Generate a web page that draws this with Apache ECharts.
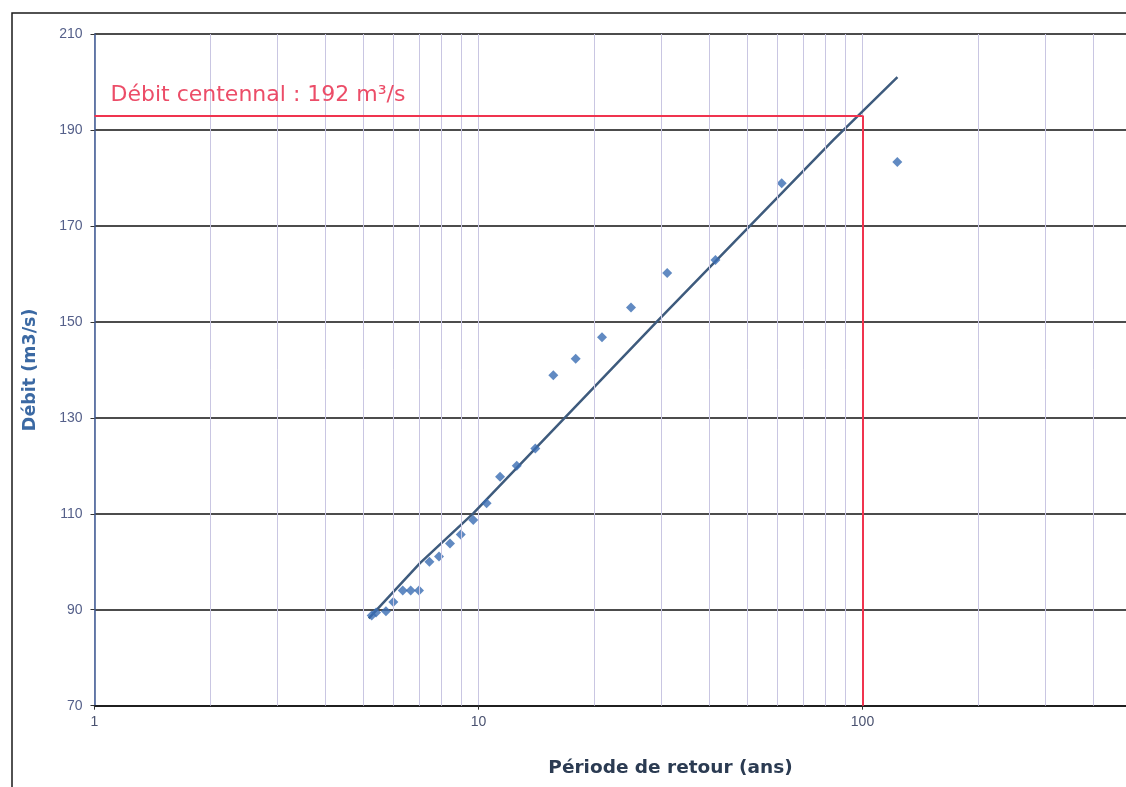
<!DOCTYPE html>
<html>
<head>
<meta charset="utf-8">
<script src="https://cdn.jsdelivr.net/npm/echarts@6/dist/echarts.min.js"></script>
<style>
html, body { margin: 0; padding: 0; background: #fff; overflow: hidden; }
/* le graphique d'origine est coupé à droite : le cadre continue au-delà de la fenêtre */
#chart { width: 1300px; height: 787px; }
</style>
</head>
<body>
<div id="chart"></div>
<script>
// période de retour (ans) des crues observées
const periodes = [123.2, 61.6, 41.4, 31.0, 24.95, 20.97, 17.91, 15.66, 14.06, 12.58, 11.38, 10.5,
    9.69, 8.99, 8.43, 7.89, 7.45, 7.0, 6.66, 6.35, 6.0, 5.74, 5.41, 5.27]
// débit observé (m3/s)
const debits = [183.3, 178.9, 162.9, 160.2, 153.0, 146.8, 142.3, 138.9, 123.6, 120.0, 117.7, 112.2,
    108.7, 105.7, 103.8, 101.1, 100.0, 94.0, 94.0, 94.0, 91.6, 89.7, 89.4, 88.8]
// droite d'ajustement
const ajustT = [5.18, 7.04, 9.69, 29.1, 83.9, 123.3]
const ajustQ = [88.2, 99.7, 110.1, 150.0, 187.9, 201.0]
// débit centennal
const periodeRef = 100
const debitRef = 193
const labelRef = 'Débit centennal : 192 m³/s'
// graduations
const yTicks = [70, 90, 110, 130, 150, 170, 190, 210]
const xMinorGrid = [2, 3, 4, 5, 6, 7, 8, 9, 20, 30, 40, 50, 60, 70, 80, 90, 200, 300, 400, 500, 600, 700, 800, 900]

const points = periodes.map((t, i) => [t, debits[i]])
const droite = ajustT.map((t, i) => [t, ajustQ[i]])

const option = {
    animation: false,
    backgroundColor: '#fff',
    graphic: [
        {
            type: 'rect',
            shape: { x: 12, y: 13, width: 1400, height: 900 },
            style: { fill: 'none', stroke: '#1a1a1a', lineWidth: 1.5 },
            silent: true
        }
    ],
    grid: {
        left: 94.5,
        top: 34,
        width: 1152,
        bottom: 81.3
    },
    xAxis: {
        type: 'log',
        logBase: 10,
        min: 1,
        max: 1000,
        name: 'Période de retour (ans)',
        nameLocation: 'middle',
        nameGap: 53,
        nameTextStyle: {
            fontFamily: 'DejaVu Sans',
            fontWeight: 'bold',
            fontSize: 18.5,
            color: '#2b3b52'
        },
        axisLine: { lineStyle: { color: '#111', width: 1.5 } },
        axisTick: { show: true, length: 4, lineStyle: { color: '#333' } },
        axisLabel: {
            fontFamily: 'Liberation Sans',
            fontSize: 14,
            color: '#4a5270',
            margin: 9
        },
        splitLine: { show: true, lineStyle: { color: '#c9c6e2', width: 1 } }
    },
    yAxis: {
        type: 'value',
        min: yTicks[0],
        max: yTicks[yTicks.length - 1],
        interval: 20,
        name: 'Débit (m3/s)',
        nameLocation: 'middle',
        nameGap: 55,
        nameTextStyle: {
            fontFamily: 'DejaVu Sans',
            fontWeight: 'bold',
            fontSize: 17.5,
            color: '#3b69a3'
        },
        axisLine: { show: true, lineStyle: { color: '#3d5890', width: 1.5 } },
        axisTick: { show: true, length: 4, lineStyle: { color: '#333' } },
        axisLabel: {
            fontFamily: 'Liberation Sans',
            fontSize: 14,
            color: '#55608a',
            margin: 12
        },
        splitLine: { show: true, lineStyle: { color: '#111', width: 1.5 } }
    },
    series: [
        {
            // grille secondaire du log
            name: 'grille',
            type: 'line',
            data: [],
            silent: true,
            markLine: {
                silent: true,
                symbol: ['none', 'none'],
                label: { show: false },
                lineStyle: { color: '#c9c6e2', width: 1, type: 'solid' },
                data: xMinorGrid.map(v => ({ xAxis: v }))
            }
        },
        {
            name: 'centennal',
            type: 'line',
            data: [],
            silent: true,
            markLine: {
                silent: true,
                symbol: ['none', 'none'],
                lineStyle: { color: '#f0344f', width: 2, type: 'solid' },
                label: { show: false },
                data: [
                    [
                        {
                            coord: [1, debitRef],
                            label: {
                                show: true,
                                position: 'insideStartTop',
                                distance: [16, 9],
                                formatter: labelRef,
                                fontFamily: 'DejaVu Sans',
                                fontSize: 22,
                                color: '#ec4d68'
                            }
                        },
                        { coord: [periodeRef, debitRef] }
                    ],
                    [
                        { coord: [periodeRef, debitRef] },
                        { coord: [periodeRef, yTicks[0]] }
                    ]
                ]
            }
        },
        {
            name: 'ajustement',
            type: 'line',
            data: droite,
            showSymbol: false,
            smooth: false,
            lineStyle: { color: '#3e5b7d', width: 2.5 },
            z: 3
        },
        {
            name: 'observations',
            type: 'scatter',
            data: points,
            symbol: 'diamond',
            symbolSize: 10,
            itemStyle: { color: '#3a6db3' },
            z: 4
        }
    ]
}

const chart = echarts.init(document.getElementById('chart'))
chart.setOption(option)
</script>
</body>
</html>
